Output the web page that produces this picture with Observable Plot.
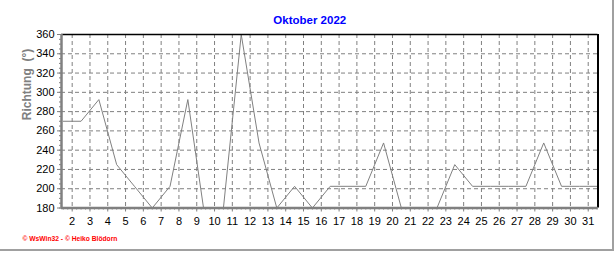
<!DOCTYPE html>
<html>
<head>
<meta charset="utf-8">
<script src="https://cdn.jsdelivr.net/npm/d3@7"></script>
<script src="https://cdn.jsdelivr.net/npm/@observablehq/plot@0.6"></script>
<style>
  html, body { margin: 0; padding: 0; background: #fff; }
  #wrap { position: relative; width: 616px; height: 253px; overflow: hidden; }
  #border { position: absolute; left: 0; top: 0; width: 614px; height: 251px; box-sizing: border-box;
            border-right: 2px solid #a0a0a0; border-bottom: 2px solid #a0a0a0; pointer-events: none; }
  svg { display: block; }
</style>
</head>
<body>
<div id="wrap"><div id="chart"></div><div id="border"></div></div>
<script>
const title = "Oktober 2022";
const yLabel = "Richtung  (°)";
const footer = "© WsWin32 - © Heiko Blödorn";
const days = d3.range(1, 32);
const direction = [270, 270, 292.5, 225, 202.5, 180, 202.5, 292.5, 165, 180,
                   360, 247.5, 180, 202.5, 180, 202.5, 202.5, 202.5, 247.5, 180,
                   180, 180, 225, 202.5, 202.5, 202.5, 202.5, 247.5, 202.5, 202.5, 202.5];
const xTicks = d3.range(2, 32);
const yTicks = d3.range(180, 361, 20);

const data = days.map((d, i) => ({day: d, value: direction[i]}));
const xDomain = [1.4, 31.55];
const yDomain = [180, 360];
const font = "'Liberation Sans', Arial, sans-serif";

const chart = Plot.plot({
  width: 616,
  height: 253,
  marginLeft: 61,
  marginRight: 18.5,
  marginTop: 34,
  marginBottom: 45.5,
  style: {fontFamily: font, fontSize: "11px", color: "#000", background: "#fff"},
  x: {domain: xDomain},
  y: {domain: yDomain},
  marks: [
    Plot.gridX(xTicks, {stroke: "#808080", strokeOpacity: 1, strokeDasharray: "4,3"}),
    Plot.gridY(yTicks, {stroke: "#808080", strokeOpacity: 1, strokeDasharray: "4,3"}),
    Plot.axisY(d3.range(180, 361, 5), {tickSize: 2, text: null, stroke: "#808080", label: null}),
    Plot.axisY(yTicks, {tickSize: 4, tickPadding: 3, stroke: "#808080", fill: "#000", fontSize: 11, label: null}),
    Plot.axisX(d3.range(1.5, 31.55, 0.25), {tickSize: 2, text: null, stroke: "#808080", label: null}),
    Plot.axisX(xTicks, {tickSize: 4, tickPadding: 5, stroke: "#808080", fill: "#000", fontSize: 11, label: null}),
    Plot.line(data, {x: d => d.day + 0.5, y: "value", stroke: "#808080", strokeWidth: 1, clip: true}),
    Plot.ruleY([yDomain[1]], {stroke: "#000", strokeWidth: 1.5}),
    Plot.ruleX([xDomain[1]], {stroke: "#000", strokeWidth: 2}),
    Plot.ruleX([xDomain[0]], {stroke: "#808080", strokeWidth: 2.5}),
    Plot.ruleY([yDomain[0]], {stroke: "#808080", strokeWidth: 2.5}),
    Plot.text([title], {frameAnchor: "top", dx: -20, dy: -14, fill: "#0000ff", fontWeight: "bold", fontSize: 11.5, lineAnchor: "middle"}),
    Plot.text([yLabel], {frameAnchor: "left", dx: -34, dy: -1, rotate: -90, fill: "#808080", fontWeight: "bold", fontSize: 12, lineAnchor: "middle"}),
    Plot.text([footer], {frameAnchor: "bottom-left", dx: -39, dy: 31, textAnchor: "start", fill: "#ff0000", fontWeight: "bold", fontSize: 6.7, lineAnchor: "middle"})
  ]
});
document.getElementById("chart").appendChild(chart);
</script>
</body>
</html>
